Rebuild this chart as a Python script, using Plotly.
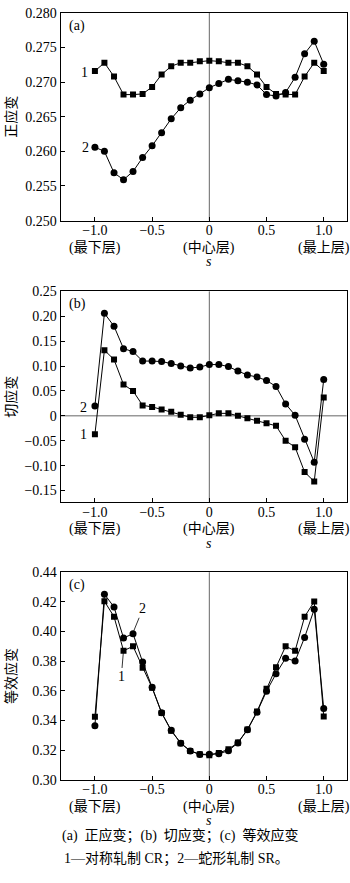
import plotly.graph_objects as go

W, H = 350, 883

s = [-1.0, -0.917, -0.833, -0.75, -0.667, -0.583, -0.5, -0.417, -0.333, -0.25, -0.167, -0.083,
     0.0, 0.083, 0.167, 0.25, 0.333, 0.417, 0.5, 0.583, 0.667, 0.75, 0.833, 0.917, 1.0]

# (a) normal strain
a_cr = [0.2716, 0.2728, 0.2708, 0.2682, 0.2682, 0.2683, 0.2693, 0.2711, 0.2723, 0.2728, 0.2728, 0.2730,
        0.2731, 0.2730, 0.2728, 0.2728, 0.2723, 0.2711, 0.2693, 0.2683, 0.2682, 0.2682, 0.2708, 0.2728, 0.2716]
a_sr = [0.2606, 0.2600, 0.2569, 0.2559, 0.2571, 0.2591, 0.2608, 0.2627, 0.2647, 0.2663, 0.2674, 0.2683,
        0.2692, 0.2698, 0.2704, 0.2702, 0.2700, 0.2696, 0.2682, 0.2680, 0.2685, 0.2707, 0.2741, 0.2759, 0.2726]

# (b) shear strain
b_cr = [-0.037, 0.132, 0.113, 0.063, 0.050, 0.021, 0.018, 0.0125, 0.008, 0.002, -0.003, -0.003,
        0.001, 0.005, 0.005, 0.000, -0.005, -0.010, -0.015, -0.020, -0.050, -0.063, -0.113, -0.132, 0.037]
b_sr = [0.020, 0.206, 0.180, 0.135, 0.129, 0.110, 0.110, 0.109, 0.105, 0.100, 0.096, 0.098,
        0.103, 0.103, 0.099, 0.090, 0.082, 0.078, 0.071, 0.059, 0.024, 0.001, -0.047, -0.093, 0.073]

# (c) equivalent strain
c_cr = [0.3424, 0.4204, 0.4100, 0.3870, 0.3900, 0.3755, 0.3620, 0.3450, 0.3330, 0.3246, 0.3194, 0.3172,
        0.3165, 0.3180, 0.3205, 0.3250, 0.3338, 0.3460, 0.3614, 0.3758, 0.3900, 0.3870, 0.4100, 0.4202, 0.3426]
c_sr = [0.3363, 0.4252, 0.4165, 0.3956, 0.3985, 0.3794, 0.3623, 0.3452, 0.3333, 0.3246, 0.3194, 0.3170,
        0.3172, 0.3175, 0.3195, 0.3248, 0.3336, 0.3455, 0.3597, 0.3715, 0.3820, 0.3800, 0.3960, 0.4150, 0.3480]

x_tickvals = [-1.0, -0.5, 0.0, 0.5, 1.0]
x_ticktext = ["\u22121.0", "\u22120.5", "0", "0.5", "1.0"]
x_sublabels = ["(最下层)", "(中心层)", "(最上层)"]
x_subpos = [-1.0, 0.0, 1.0]

a_ticks = [0.250, 0.255, 0.260, 0.265, 0.270, 0.275, 0.280]
a_ticktext = ["0.250", "0.255", "0.260", "0.265", "0.270", "0.275", "0.280"]
b_ticks = [-0.15, -0.10, -0.05, 0.0, 0.05, 0.10, 0.15, 0.20, 0.25]
b_ticktext = ["\u22120.15", "\u22120.10", "\u22120.05", "0", "0.05", "0.10", "0.15", "0.20", "0.25"]
c_ticks = [0.30, 0.32, 0.34, 0.36, 0.38, 0.40, 0.42, 0.44]
c_ticktext = ["0.30", "0.32", "0.34", "0.36", "0.38", "0.40", "0.42", "0.44"]

y_titles = ["正应变", "切应变", "等效应变"]
panel_tags = ["(a)", "(b)", "(c)"]
caption1 = "(a)  正应变；(b)  切应变；(c)  等效应变"
caption2 = "1—对称轧制 CR；2—蛇形轧制 SR。"

FONT = "Liberation Serif, Noto Sans CJK SC, serif"

def px(x):
    return x / W

def py(y):
    return 1 - y / H

# panel pixel boxes (top, bottom)
boxes = [(6, 217.3), (289.3, 503.5), (575, 786)]
xdom = [px(60.6), px(346.6)]

fig = go.Figure()

series = [(a_cr, a_sr), (b_cr, b_sr), (c_cr, c_sr)]
for i, (cr, sr) in enumerate(series):
    suf = "" if i == 0 else str(i + 1)
    fig.add_trace(go.Scatter(x=s, y=cr, mode="lines+markers", xaxis="x" + suf, yaxis="y" + suf,
                             line=dict(color="black", width=1),
                             marker=dict(symbol="square", size=6, color="black"), showlegend=False))
    fig.add_trace(go.Scatter(x=s, y=sr, mode="lines+markers", xaxis="x" + suf, yaxis="y" + suf,
                             line=dict(color="black", width=1),
                             marker=dict(symbol="circle", size=7, color="black"), showlegend=False))

yranges = [[0.250, 0.280], [-0.173, 0.25], [0.30, 0.44]]
yticks = [(a_ticks, a_ticktext), (b_ticks, b_ticktext), (c_ticks, c_ticktext)]

layout = dict(width=W, height=H, margin=dict(l=0, r=0, t=0, b=0),
              paper_bgcolor="white", plot_bgcolor="white",
              font=dict(family=FONT, size=14, color="black"), showlegend=False)

for i in range(3):
    suf = "" if i == 0 else str(i + 1)
    top, bot = boxes[i]
    layout["xaxis" + suf] = dict(domain=xdom, range=[-1.3, 1.2], anchor="y" + suf,
                                 tickvals=x_tickvals, ticktext=x_ticktext,
                                 ticks="inside", ticklen=4, tickcolor="black",
                                 ticklabelstandoff=-3,
                                 showline=True, linecolor="black", linewidth=1, mirror=True,
                                 showgrid=False, zeroline=False,
                                 tickfont=dict(family=FONT, size=14, color="black"))
    layout["yaxis" + suf] = dict(domain=[py(bot), py(top)], range=yranges[i], anchor="x" + suf,
                                 tickvals=yticks[i][0], ticktext=yticks[i][1],
                                 ticks="inside", ticklen=4, tickcolor="black",
                                 showline=True, linecolor="black", linewidth=1, mirror=True,
                                 showgrid=False, zeroline=False,
                                 tickfont=dict(family=FONT, size=14, color="black"))

shapes = []
for i in range(3):
    suf = "" if i == 0 else str(i + 1)
    shapes.append(dict(type="line", xref="x" + suf, yref="y" + suf + " domain",
                       x0=0, x1=0, y0=0, y1=1, line=dict(color="#666666", width=1), layer="below"))
shapes.append(dict(type="line", xref="x2 domain", yref="y2", x0=0, x1=1, y0=0, y1=0,
                   line=dict(color="#666666", width=1), layer="below"))
layout["shapes"] = shapes

F14 = dict(size=14, family=FONT, color="black")
ann = []
for i in range(3):
    suf = "" if i == 0 else str(i + 1)
    top, bot = boxes[i]
    ann.append(dict(text=y_titles[i], x=px(11), y=py((top + bot) / 2), xref="paper", yref="paper",
                    textangle=-90, showarrow=False, font=F14, xanchor="center", yanchor="middle"))
    ann.append(dict(text=panel_tags[i], x=px(67), y=py(top + 13), xref="paper", yref="paper",
                    showarrow=False, font=F14, xanchor="left", yanchor="middle"))
    for xv, lab in zip(x_subpos, x_sublabels):
        ann.append(dict(text=lab, x=xv, y=py(bot + 28), xref="x" + suf, yref="paper",
                        showarrow=False, font=F14, xanchor="center", yanchor="middle",
                        borderpad=0))
    ann.append(dict(text="<i>s</i>", x=0, y=py(bot + 42), xref="x" + suf, yref="paper",
                    showarrow=False, font=F14, xanchor="center", yanchor="middle", borderpad=0))

# curve labels
for txt, xx, yy in [("1", 84, 67), ("2", 85, 143), ("2", 83, 407), ("1", 83, 435)]:
    ann.append(dict(text=txt, x=px(xx), y=py(yy), xref="paper", yref="paper", showarrow=False,
                    font=F14, xanchor="center", yanchor="middle"))
ann.append(dict(text="2", x=-0.66, y=0.4005, xref="x3", yref="y3", showarrow=True, arrowhead=0,
                arrowwidth=0.8, arrowcolor="black", ax=9, ay=-22, font=F14))
ann.append(dict(text="1", x=-0.752, y=0.3855, xref="x3", yref="y3", showarrow=True, arrowhead=0,
                arrowwidth=0.8, arrowcolor="black", ax=-2, ay=24, font=F14))

# caption
ann.append(dict(text=caption1, x=px(180), y=py(843), xref="paper", yref="paper", showarrow=False,
                font=F14, xanchor="center", yanchor="middle"))
ann.append(dict(text=caption2, x=px(176), y=py(867), xref="paper", yref="paper", showarrow=False,
                font=F14, xanchor="center", yanchor="middle"))
layout["annotations"] = ann

fig.update_layout(**layout)
fig.write_html("out.html")
